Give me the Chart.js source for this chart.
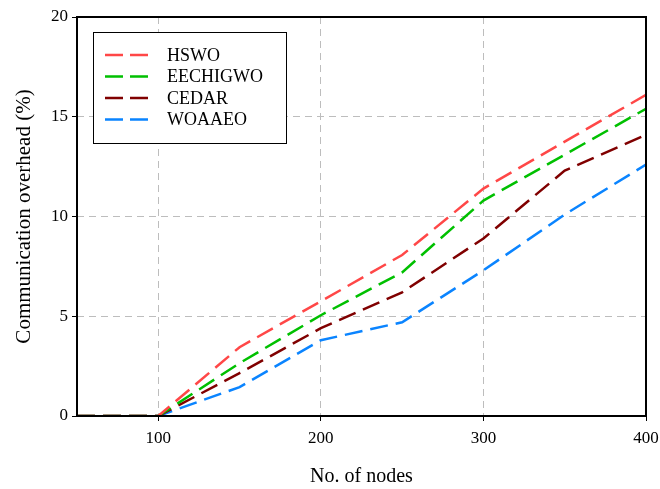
<!DOCTYPE html>
<html>
<head>
<meta charset="utf-8">
<script src="https://cdn.jsdelivr.net/npm/chart.js@4"></script>
<style>
  html, body { margin: 0; padding: 0; background: #fff; }
  #wrap { width: 660px; height: 489px; }
</style>
</head>
<body>
<div id="wrap"><canvas id="overhead_chart"></canvas></div>
<script>
const nodes = [50, 100, 150, 200, 250, 300, 350, 400];
const hswo = [0, 0, 3.45, 5.75, 8.07, 11.4, 13.75, 16.1];
const eechigwo = [0, 0, 2.65, 5.05, 7.2, 10.8, 13.1, 15.4];
const cedar = [0, 0, 2.15, 4.4, 6.2, 8.9, 12.3, 14.1];
const woaaeo = [0, 0, 1.45, 3.8, 4.7, 7.3, 10.1, 12.6];
const seriesNames = ["HSWO", "EECHIGWO", "CEDAR", "WOAAEO"];
const xTicks = [100, 200, 300, 400];
const yTicks = [0, 5, 10, 15, 20];

const colors = ['#ff4747', '#00c000', '#800000', '#0a84ff'];
const dash = [18, 8];
const serif = "'Liberation Serif', 'Times New Roman', serif";

function toPoints(arr) {
    return arr.map((v, i) => ({ x: nodes[i], y: v }));
}

// frame + boxed legend drawn inside the plot area
const framePlugin = {
    id: 'frame',
    afterDatasetsDraw(chart) {
        const ctx = chart.ctx;
        const a = chart.chartArea;
        ctx.save();
        ctx.strokeStyle = '#000';
        ctx.lineWidth = 2;
        ctx.setLineDash([]);
        ctx.strokeRect(a.left, a.top, a.right - a.left, a.bottom - a.top);

        // legend
        const bx = 93, by = 32, bw = 193, bh = 111;
        ctx.fillStyle = '#fff';
        ctx.fillRect(bx, by, bw, bh);
        ctx.lineWidth = 1;
        ctx.strokeRect(bx + 0.5, by + 0.5, bw, bh);
        ctx.font = '18px ' + serif;
        ctx.textBaseline = 'middle';
        chart.data.datasets.forEach((ds, i) => {
            const y = by + 23 + i * 21.5;
            ctx.strokeStyle = ds.borderColor;
            ctx.lineWidth = 2.5;
            ctx.setLineDash([18, 7]);
            ctx.beginPath();
            ctx.moveTo(105, y);
            ctx.lineTo(148, y);
            ctx.stroke();
            ctx.setLineDash([]);
            ctx.fillStyle = '#000';
            ctx.fillText(ds.label, 167, y + 1);
        });
        ctx.restore();
    }
};

function createOverheadChart() {
    const canvas = document.getElementById("overhead_chart");
    const data = {
        datasets: [hswo, eechigwo, cedar, woaaeo].map((arr, i) => ({
            label: seriesNames[i],
            data: toPoints(arr),
            borderColor: colors[i],
            backgroundColor: colors[i],
            borderWidth: 2.5,
            borderDash: dash,
            pointRadius: 0,
            fill: false,
            tension: 0
        }))
    };

    const config = {
        type: 'line',
        data: data,
        options: {
            responsive: true,
            maintainAspectRatio: false,
            animation: false,
            layout: { padding: { left: 8, right: 0, top: 17, bottom: 0 } },
            plugins: {
                legend: { display: false },
                tooltip: { enabled: false }
            },
            scales: {
                x: {
                    type: 'linear',
                    min: 50,
                    max: 400,
                    afterBuildTicks: (s) => { s.ticks = xTicks.map(v => ({ value: v })); },
                    afterFit: (s) => { s.height = 73; s.paddingRight = 14; },
                    grid: { color: '#bdbdbd', lineWidth: 1, tickColor: '#000', tickLength: 5 },
                    border: { display: false, dash: [7, 5] },
                    ticks: { color: '#000', font: { family: serif, size: 17 }, padding: 7, maxRotation: 0 },
                    title: { display: true, text: 'No. of nodes', color: '#000', font: { family: serif, size: 20 }, padding: { top: 18, bottom: 0 } }
                },
                y: {
                    min: 0,
                    max: 20,
                    afterBuildTicks: (s) => { s.ticks = yTicks.map(v => ({ value: v })); },
                    afterFit: (s) => { s.width = 69; },
                    grid: { color: '#bdbdbd', lineWidth: 1, tickColor: '#000', tickLength: 5 },
                    border: { display: false, dash: [7, 5] },
                    ticks: { color: '#000', font: { family: serif, size: 17 }, padding: 4 },
                    title: { display: true, text: 'Communication overhead (%)', color: '#000', font: { family: serif, size: 21 }, padding: { bottom: 6 } }
                }
            }
        },
        plugins: [framePlugin]
    };

    const myChart = new Chart(canvas, config);
    return myChart;
}

createOverheadChart();
</script>
</body>
</html>
